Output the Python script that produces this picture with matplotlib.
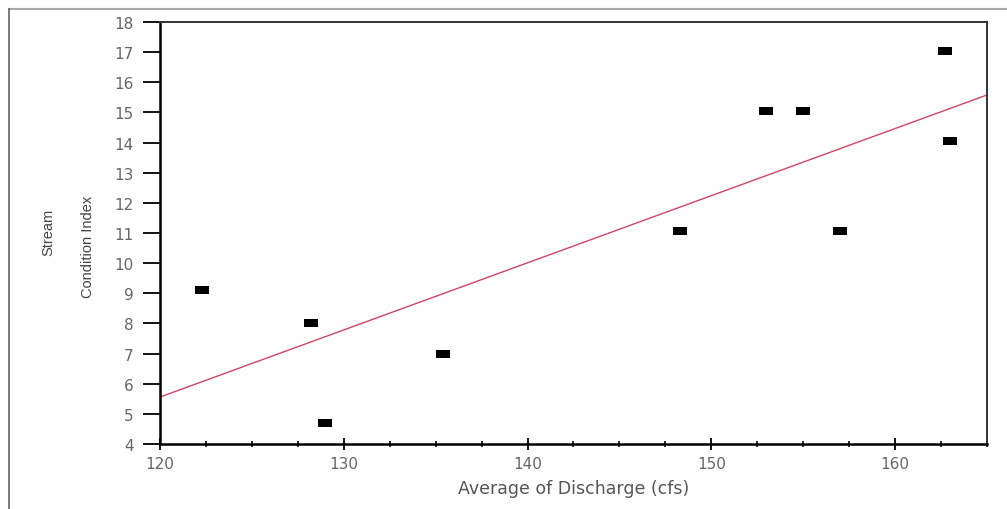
import matplotlib
matplotlib.use("Agg")
import matplotlib.pyplot as plt
import numpy as np
from matplotlib.lines import Line2D
from matplotlib.ticker import MultipleLocator

# Average discharge (cfs) vs stream condition index
discharge = [122.3, 128.2, 129.0, 135.4, 148.3, 153.0, 155.0, 157.0, 162.7, 163.0]
condition = [9.1, 8.0, 4.7, 7.0, 11.05, 15.05, 15.05, 11.05, 17.05, 14.05]

x_ticks = [120, 130, 140, 150, 160]
y_ticks = list(range(4, 19))

fig = plt.figure(figsize=(10.07, 5.10), dpi=100)
ax = fig.add_axes([0.159, 0.1275, 0.821, 0.8275])

# least-squares trend line across full x range
slope, icept = np.polyfit(discharge, condition, 1)
xs = np.array([120, 165])
ax.plot(xs, slope * xs + icept, color='#cc4466', lw=1.0, zorder=2)

# flat rectangular markers
rect = [(-1, -0.55), (1, -0.55), (1, 0.55), (-1, 0.55), (-1, -0.55)]
ax.scatter(discharge, condition, marker=rect, s=110, color='black', zorder=3, linewidths=0)

ax.set_xlim(120, 165)
ax.set_ylim(4, 18)
ax.set_xticks(x_ticks)
ax.set_yticks(y_ticks)
ax.xaxis.set_minor_locator(MultipleLocator(2.5))

for side in ['left', 'bottom']:
    ax.spines[side].set_linewidth(1.8)
    ax.spines[side].set_color('black')
for side in ['top', 'right']:
    ax.spines[side].set_linewidth(1.4)
    ax.spines[side].set_color('#333333')

ax.tick_params(axis='y', direction='out', length=12, width=1.3, pad=7,
               labelsize=11, labelcolor='#666666')
ax.tick_params(axis='x', which='major', direction='inout', length=9, width=1.3, pad=4,
               labelsize=11, labelcolor='#666666')
ax.tick_params(axis='x', which='minor', direction='inout', length=5, width=1.2)

ax.set_xlabel('Average of Discharge (cfs)', fontsize=12.5, color='#555555', labelpad=6)

fig.text(48 / 1007, 1 - 232 / 510, 'Stream', rotation=90, ha='center', va='center',
         fontsize=10.5, color='#444444', family='Liberation Sans')
fig.text(88 / 1007, 1 - 247 / 510, 'Condition Index', rotation=90, ha='center', va='center',
         fontsize=10.5, color='#444444', family='Liberation Sans')

# partial outer frame (top and left edges)
fig.add_artist(Line2D([9 / 1007, 1.0], [1 - 10 / 510, 1 - 10 / 510], color='#aaaaaa', lw=1.5))
fig.add_artist(Line2D([9 / 1007, 9 / 1007], [0, 1 - 10 / 510], color='#666666', lw=1.2))

fig.savefig('out.png', dpi=100)
plt.close(fig)
